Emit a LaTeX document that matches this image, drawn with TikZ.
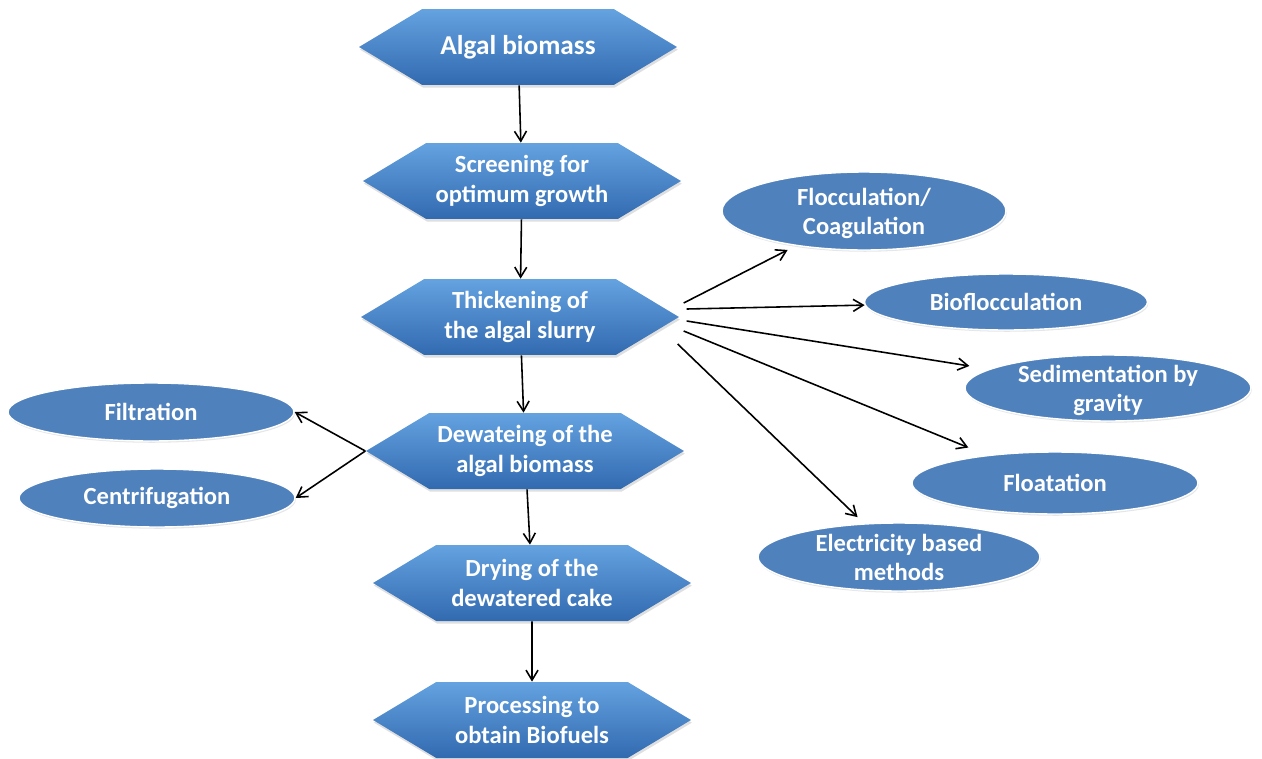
\documentclass[tikz,border=0pt]{standalone}
\usepackage{fontspec}
\setmainfont{Carlito}
\usetikzlibrary{shapes.symbols,shapes.geometric,arrows.meta,shadows}

\definecolor{hextop}{RGB}{100,162,224}
\definecolor{hexbot}{RGB}{50,106,176}
\definecolor{ovalblue}{RGB}{79,129,189}

% two-line text that does not stretch the oval
\newcommand{\ovaltext}[1]{\smash{\raisebox{-5.5pt}{\begin{tabular}{@{}c@{}}#1\end{tabular}}}}

\begin{document}
\begin{tikzpicture}[x=0.02cm,y=-0.02cm,
		hexa/.style={shape=signal, signal to=west and east, signal pointer angle=62,
			minimum width=6.36cm, minimum height=1.52cm, inner sep=0pt,
			top color=hextop, bottom color=hexbot, text=white, align=center,
			font=\fontsize{14}{17}\selectfont\bfseries,
			drop shadow={opacity=0.25, shadow xshift=0.5pt, shadow yshift=-1.5pt}},
		oval/.style={ellipse, fill=ovalblue, draw=white, line width=0.8pt, inner sep=0pt,
			text=white, font=\fontsize{14}{16}\selectfont\bfseries,
			drop shadow={opacity=0.2, shadow xshift=0.5pt, shadow yshift=-1pt}},
		arr/.style={-{Straight Barb[length=2mm,width=2.4mm]}, line width=0.9pt}]
	\useasboundingbox (0,0) rectangle (1262,758);
	
	% main chain
	\node [hexa, font=\fontsize{15.5}{18}\selectfont\bfseries] (alg) at (518,47) {Algal biomass};
	\node [hexa] (scr) at (522,181) {Screening for\\optimum growth};
	\node [hexa] (thk) at (520,317) {Thickening of\\the algal slurry};
	\node [hexa] (dew) at (525,451) {Dewateing of the\\algal biomass};
	\node [hexa] (dry) at (532,583) {Drying of the\\dewatered cake};
	\node [hexa] (pro) at (532,720) {Processing to\\obtain Biofuels};
	
	% thickening methods
	\node [oval, minimum width=5.68cm, minimum height=1.56cm] (floc) at (864,211) {\ovaltext{Flocculation/\\Coagulation}};
	\node [oval, minimum width=5.66cm, minimum height=1.12cm] (bio) at (1006,302) {Bioflocculation};
	\node [oval, minimum width=5.72cm, minimum height=1.32cm] (sed) at (1108,388) {\ovaltext{Sedimentation by\\gravity}};
	\node [oval, minimum width=5.72cm, minimum height=1.24cm] (flo) at (1055,483) {Floatation};
	\node [oval, minimum width=5.64cm, minimum height=1.36cm] (ele) at (899,557) {\ovaltext{Electricity based\\methods}};
	
	% dewatering methods
	\node [oval, minimum width=5.72cm, minimum height=1.16cm] (fil) at (151,412) {Filtration};
	\node [oval, minimum width=5.52cm, minimum height=1.16cm] (cen) at (157,498) {Centrifugation};
	
	\draw [arr] (alg) -- (scr);
	\draw [arr] (scr) -- (thk);
	\draw [arr] (thk) -- (dew);
	\draw [arr] (dew) -- (dry);
	\draw [arr] (dry) -- (pro);
	
	\draw [arr, shorten >=0.18cm] ([shift={(4,-14)}]thk.east) -- (floc);
	\draw [arr] ([shift={(7,-8)}]thk.east) -- (bio);
	\draw [arr, shorten >=0.4cm] ([shift={(7,4)}]thk.east) -- (sed);
	\draw [arr, shorten >=0.4cm] ([shift={(4,14)}]thk.east) -- (flo);
	\draw [arr, shorten >=0.18cm] ([shift={(-2,27)}]thk.east) -- (ele);
	
	\draw [arr] (dew.west) -- (fil.east);
	\draw [arr] (dew.west) -- (cen.east);
\end{tikzpicture}
\end{document}
